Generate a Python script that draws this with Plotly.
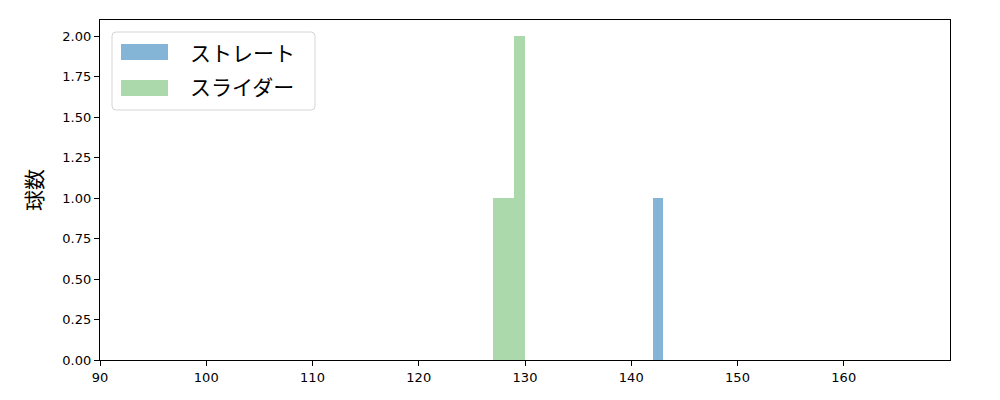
import plotly.graph_objects as go

# Histogram data (bin edges and counts)
straight_edges = [142, 143]
straight_counts = [1]
slider_edges = [127, 128, 129, 130]
slider_counts = [1, 1, 2]

series_names = ["ストレート", "スライダー"]
series_colors = ["rgba(31,119,180,0.55)", "rgba(44,160,44,0.4)"]

x_ticks = [90, 100, 110, 120, 130, 140, 150, 160]
y_ticks = [0, 0.25, 0.5, 0.75, 1.0, 1.25, 1.5, 1.75, 2.0]

FONT = "Noto Sans CJK JP, DejaVu Sans, sans-serif"
TICKFONT = "DejaVu Sans, sans-serif"

# plot area in pixels
L, R, T, B = 100, 950, 20, 360
W, H = 1000, 400


def px_x(p):
    return (p - L) / (R - L)


def px_y(p):
    return (B - p) / (B - T)


def bar_trace(edges, counts, name, color):
    lefts = edges[:-1]
    widths = [b - a for a, b in zip(edges[:-1], edges[1:])]
    return go.Bar(
        x=lefts, y=counts, width=widths, offset=0, name=name,
        marker=dict(color=color, line=dict(width=0)),
    )


fig = go.Figure()
fig.add_trace(bar_trace(straight_edges, straight_counts, series_names[0], series_colors[0]))
fig.add_trace(bar_trace(slider_edges, slider_counts, series_names[1], series_colors[1]))

axis_common = dict(
    showline=True, linecolor="black", linewidth=1.3, mirror=True,
    ticks="outside", ticklen=5, tickwidth=1.2, tickcolor="black",
    showgrid=False, zeroline=False,
    tickfont=dict(family=TICKFONT, size=13, color="black"),
)

# manual legend (matplotlib style)
shapes = []
annotations = []
x0, x1, y0, y1, r = 112, 315, 32, 110, 4
path = (
    f"M {px_x(x0 + r)},{px_y(y0)} L {px_x(x1 - r)},{px_y(y0)} "
    f"Q {px_x(x1)},{px_y(y0)} {px_x(x1)},{px_y(y0 + r)} "
    f"L {px_x(x1)},{px_y(y1 - r)} Q {px_x(x1)},{px_y(y1)} {px_x(x1 - r)},{px_y(y1)} "
    f"L {px_x(x0 + r)},{px_y(y1)} Q {px_x(x0)},{px_y(y1)} {px_x(x0)},{px_y(y1 - r)} "
    f"L {px_x(x0)},{px_y(y0 + r)} Q {px_x(x0)},{px_y(y0)} {px_x(x0 + r)},{px_y(y0)} Z"
)
shapes.append(dict(type="path", path=path, xref="paper", yref="paper",
                   line=dict(color="#d5d5d5", width=1), fillcolor="rgba(255,255,255,0.8)",
                   layer="above"))
rows = [(44, 60, 52), (80, 96, 86)]
for (ya, yb, yc), name, color in zip(rows, series_names, series_colors):
    shapes.append(dict(type="rect", xref="paper", yref="paper",
                       x0=px_x(121), x1=px_x(168), y0=px_y(yb), y1=px_y(ya),
                       fillcolor=color, line=dict(width=0), layer="above"))
    annotations.append(dict(text=name, xref="paper", yref="paper",
                            x=px_x(188), y=px_y(yc), xanchor="left", yanchor="middle",
                            showarrow=False,
                            font=dict(family=FONT, size=21, color="black")))

fig.update_layout(
    width=W, height=H,
    margin=dict(l=L, r=W - R, t=T, b=H - B),
    plot_bgcolor="white", paper_bgcolor="white",
    barmode="overlay", bargap=0,
    font=dict(family=FONT, color="black"),
    xaxis=dict(range=[90, 170], tickvals=x_ticks, **axis_common),
    yaxis=dict(range=[0, 2.1], tickvals=y_ticks, tickformat=".2f",
               title=dict(text="球数", font=dict(family=FONT, size=21), standoff=13),
               **axis_common),
    showlegend=False,
    shapes=shapes,
    annotations=annotations,
)

fig.write_html("out.html", config={"displayModeBar": False},
               post_script="document.body.style.margin='0';")
